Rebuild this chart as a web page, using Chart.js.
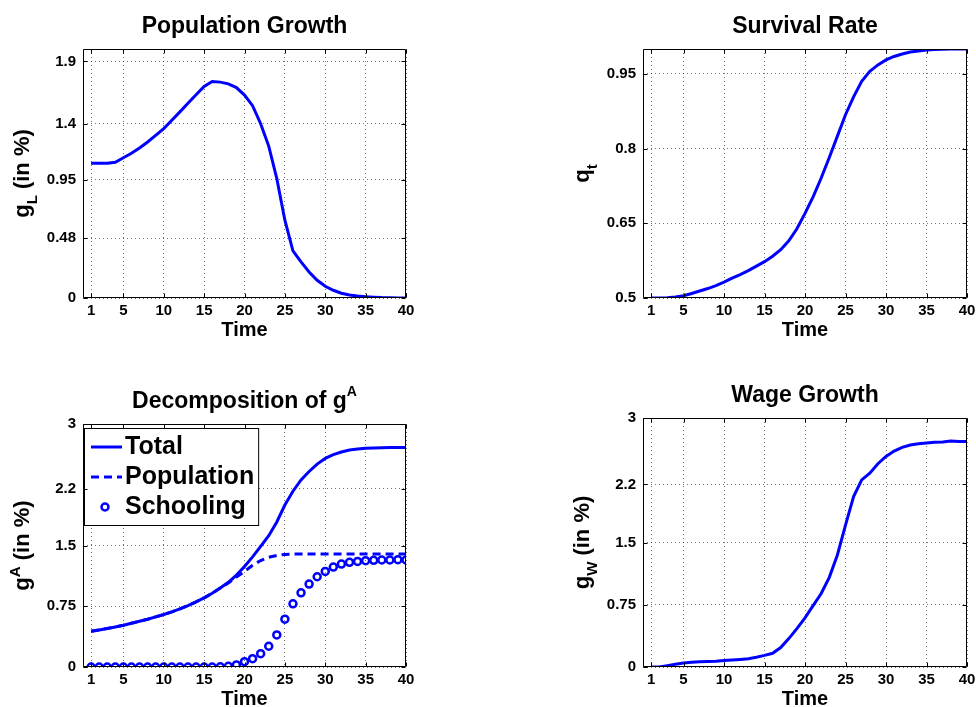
<!DOCTYPE html>
<html>
<head>
<meta charset="utf-8">
<title>Population Growth, Survival Rate, Decomposition of gA, Wage Growth</title>
<script src="https://cdn.jsdelivr.net/npm/chart.js@4.4.1/dist/chart.umd.min.js"></script>
<style>
  html, body { margin: 0; padding: 0; background: #fff; overflow: hidden; }
  #wrap { position: relative; width: 976px; height: 707px; overflow: hidden; }
  canvas { position: absolute; left: 0; top: 0; }
</style>
</head>
<body>
<div id="wrap">
  <canvas id="popChart" width="976" height="720"></canvas>
  <canvas id="survChart" width="976" height="720"></canvas>
  <canvas id="gaChart" width="976" height="720"></canvas>
  <canvas id="wageChart" width="976" height="720"></canvas>
</div>
<script>
const FONT = '"Liberation Sans", Arial, Helvetica, sans-serif';
const BLUE = '#0000ff';
const GRID = 'rgba(0,0,0,0.55)';

Chart.defaults.font.family = FONT;
Chart.defaults.color = '#000';

// time periods and tick labels
const time = [1, 2, 3, 4, 5, 6, 7, 8, 9, 10, 11, 12, 13, 14, 15, 16, 17, 18, 19, 20,
              21, 22, 23, 24, 25, 26, 27, 28, 29, 30, 31, 32, 33, 34, 35, 36, 37, 38, 39, 40];
const timeTicks = [1, 5, 10, 15, 20, 25, 30, 35, 40];

const popTicks = [0, 0.48, 0.95, 1.4, 1.9];
const survTicks = [0.5, 0.65, 0.8, 0.95];
const gaTicks = [0, 0.75, 1.5, 2.2, 3];
const wageTicks = [0, 0.75, 1.5, 2.2, 3];

// g_L (in %)
const popGrowth = [1.082, 1.082, 1.082, 1.09, 1.127, 1.162, 1.205, 1.253, 1.307, 1.361,
                   1.428, 1.495, 1.565, 1.632, 1.699, 1.739, 1.734, 1.72, 1.69, 1.63,
                   1.545, 1.40, 1.22, 0.96, 0.625, 0.378, 0.29, 0.209, 0.142, 0.094,
                   0.062, 0.038, 0.024, 0.016, 0.011, 0.007, 0.004, 0.003, 0.001, 0];

// q_t
const survival = [0.5, 0.5, 0.5007, 0.502, 0.5047, 0.509, 0.514, 0.519, 0.525, 0.532,
                  0.54, 0.547, 0.555, 0.564, 0.573, 0.584, 0.597, 0.615, 0.639, 0.67,
                  0.703, 0.741, 0.782, 0.825, 0.868, 0.904, 0.935, 0.955, 0.968, 0.978,
                  0.985, 0.99, 0.994, 0.996, 0.998, 0.999, 0.9995, 1.0, 1.0, 1.0];

// g^A decomposition
const gaTotal = [0.442, 0.458, 0.475, 0.495, 0.516, 0.54, 0.565, 0.59, 0.619, 0.648,
                 0.681, 0.718, 0.759, 0.805, 0.854, 0.91, 0.976, 1.045, 1.135, 1.24,
                 1.36, 1.49, 1.62, 1.79, 2.0, 2.17, 2.31, 2.414, 2.505, 2.575,
                 2.621, 2.654, 2.678, 2.69, 2.70, 2.703, 2.707, 2.709, 2.711, 2.711];
const gaPopulation = [0.442, 0.458, 0.475, 0.495, 0.516, 0.54, 0.565, 0.59, 0.619, 0.648,
                      0.681, 0.718, 0.759, 0.805, 0.854, 0.91, 0.974, 1.037, 1.11, 1.18,
                      1.255, 1.315, 1.355, 1.378, 1.39, 1.394, 1.395, 1.395, 1.395, 1.395,
                      1.395, 1.395, 1.395, 1.395, 1.395, 1.395, 1.395, 1.395, 1.395, 1.395];
const gaSchooling = [0, 0, 0, 0, 0, 0, 0, 0, 0, 0,
                     0, 0, 0, 0, 0, 0, 0.002, 0.008, 0.025, 0.066,
                     0.103, 0.165, 0.256, 0.396, 0.59, 0.78, 0.916, 1.024, 1.114, 1.18,
                     1.234, 1.271, 1.292, 1.304, 1.312, 1.317, 1.321, 1.321, 1.325, 1.321];

// g_W (in %)
const wageGrowth = [0, 0, 0.016, 0.032, 0.048, 0.056, 0.062, 0.066, 0.07, 0.077,
                    0.083, 0.091, 0.1, 0.118, 0.14, 0.165, 0.234, 0.342, 0.463, 0.592,
                    0.74, 0.886, 1.08, 1.35, 1.71, 2.054, 2.255, 2.336, 2.449, 2.537,
                    2.602, 2.646, 2.674, 2.69, 2.70, 2.708, 2.712, 2.724, 2.716, 2.716];

function pairs(values) {
  return time.map((t, i) => ({ x: t, y: values[i] }));
}

// draws text made of parts with their own size / baseline shift, centered on cx
function drawParts(ctx, parts, cx, baseY) {
  let widths = [];
  let total = 0;
  parts.forEach(p => {
    ctx.font = 'bold ' + p.size + 'px ' + FONT;
    let w = ctx.measureText(p.text).width;
    widths.push(w);
    total += w;
  });
  let x = cx - total / 2;
  parts.forEach((p, i) => {
    ctx.font = 'bold ' + p.size + 'px ' + FONT;
    ctx.fillText(p.text, x, baseY + (p.dy || 0));
    x += widths[i];
  });
}

function richLabels(title, ylabel) {
  return {
    id: 'richLabels',
    afterDraw(chart) {
      const ctx = chart.ctx, a = chart.chartArea;
      ctx.save();
      ctx.fillStyle = '#000';
      ctx.textAlign = 'left';
      ctx.textBaseline = 'alphabetic';
      drawParts(ctx, title, (a.left + a.right) / 2, a.top - 16);
      ctx.translate(a.left - 54, (a.top + a.bottom) / 2);
      ctx.rotate(-Math.PI / 2);
      drawParts(ctx, ylabel, 0, 0);
      ctx.restore();
    }
  };
}

// matlab style box with inward ticks on all sides
const framePlugin = {
  id: 'frame',
  afterDraw(chart) {
    const { ctx, chartArea: a, scales } = chart;
    const l = Math.round(a.left) + 0.5, r = Math.round(a.right) - 0.5;
    const t = Math.round(a.top) + 0.5, b = Math.round(a.bottom) - 0.5;
    ctx.save();
    ctx.strokeStyle = '#000';
    ctx.lineWidth = 1;
    ctx.beginPath();
    ctx.rect(l, t, r - l, b - t);
    scales.x.ticks.forEach(tk => {
      let px = Math.round(scales.x.getPixelForValue(tk.value)) + 0.5;
      ctx.moveTo(px, b); ctx.lineTo(px, b - 4);
      ctx.moveTo(px, t); ctx.lineTo(px, t + 4);
    });
    scales.y.ticks.forEach(tk => {
      let py = Math.round(scales.y.getPixelForValue(tk.value)) + 0.5;
      ctx.moveTo(l, py); ctx.lineTo(l + 4, py);
      ctx.moveTo(r, py); ctx.lineTo(r - 4, py);
    });
    ctx.stroke();
    ctx.restore();
  }
};

const boxLegend = {
  id: 'boxLegend',
  afterDatasetsDraw(chart) {
    const { ctx, chartArea: a } = chart;
    const sets = chart.data.datasets;
    ctx.save();
    ctx.font = 'bold 25px ' + FONT;
    let maxW = 0;
    sets.forEach(ds => { maxW = Math.max(maxW, ctx.measureText(ds.label).width); });
    const left = Math.round(a.left) + 1, top = Math.round(a.top) + 4;
    const w = 42 + maxW + 3, h = 97;
    ctx.fillStyle = '#fff';
    ctx.fillRect(left, top, w, h);
    ctx.strokeStyle = '#000';
    ctx.lineWidth = 1;
    ctx.strokeRect(left + 0.5, top + 0.5, w, h);
    sets.forEach((ds, i) => {
      let y = top + 19 + i * 30;
      ctx.strokeStyle = BLUE;
      if (ds.showLine === false) {
        ctx.lineWidth = ds.pointBorderWidth;
        ctx.setLineDash([]);
        ctx.beginPath();
        ctx.arc(left + 21, y, ds.pointRadius, 0, Math.PI * 2);
        ctx.stroke();
      } else {
        ctx.lineWidth = ds.borderWidth;
        ctx.setLineDash(ds.borderDash || []);
        ctx.beginPath();
        ctx.moveTo(left + 7, y);
        ctx.lineTo(left + 38, y);
        ctx.stroke();
      }
      ctx.setLineDash([]);
      ctx.fillStyle = '#000';
      ctx.textBaseline = 'middle';
      ctx.fillText(ds.label, left + 41, y);
    });
    ctx.restore();
  }
};

function lineSet(label, values, dash) {
  return {
    label: label,
    data: pairs(values),
    borderColor: BLUE,
    borderWidth: 3,
    borderDash: dash || [],
    pointRadius: 0,
    fill: false
  };
}

function buildChart(id, datasets, yTicks, yMin, yMax, padding, title, ylabel, legend) {
  const plugins = [framePlugin, richLabels(title, ylabel)];
  if (legend) plugins.push(boxLegend);
  return new Chart(document.getElementById(id), {
    type: 'line',
    data: { datasets: datasets },
    options: {
      responsive: false,
      animation: false,
      devicePixelRatio: 1,
      layout: { padding: padding },
      plugins: {
        legend: { display: false },
        title: { display: false },
        tooltip: { enabled: false }
      },
      scales: {
        x: {
          type: 'linear',
          min: 0,
          max: 40,
          afterBuildTicks: s => { s.ticks = timeTicks.map(v => ({ value: v })); },
          afterFit: s => { s.height = 44; s.paddingLeft = 0; s.paddingRight = 0; },
          ticks: {
            autoSkip: false, maxRotation: 0, padding: 4, color: '#000',
            font: { size: 15, weight: 'bold' },
            callback: v => String(v)
          },
          grid: { color: GRID, lineWidth: 1, drawTicks: false },
          border: { display: false, dash: [1, 3] },
          title: { display: true, text: 'Time', color: '#000', padding: 0,
                   font: { size: 20, weight: 'bold' } }
        },
        y: {
          type: 'linear',
          min: yMin,
          max: yMax,
          afterBuildTicks: s => { s.ticks = yTicks.map(v => ({ value: v })); },
          afterFit: s => { s.width = 60; s.paddingTop = 0; s.paddingBottom = 0; },
          ticks: {
            autoSkip: false, padding: 7, color: '#000',
            font: { size: 15, weight: 'bold' },
            callback: v => String(v)
          },
          grid: { color: GRID, lineWidth: 1, drawTicks: false },
          border: { display: false, dash: [1, 3] }
        }
      }
    },
    plugins: plugins
  });
}

buildChart('popChart', [lineSet('g_L', popGrowth)], popTicks, 0, 2,
  { left: 23, right: 570, top: 49, bottom: 378 },
  [{ text: 'Population Growth', size: 23 }],
  [{ text: 'g', size: 22 }, { text: 'L', size: 15, dy: 8 }, { text: ' (in %)', size: 22 }]);

buildChart('survChart', [lineSet('q_t', survival)], survTicks, 0.5, 1,
  { left: 583, right: 9, top: 49, bottom: 378 },
  [{ text: 'Survival Rate', size: 23 }],
  [{ text: 'q', size: 22 }, { text: 't', size: 15, dy: 8 }]);

buildChart('gaChart', [
    lineSet('Total', gaTotal),
    lineSet('Population', gaPopulation, [8, 5]),
    {
      label: 'Schooling',
      data: pairs(gaSchooling),
      showLine: false,
      pointStyle: 'circle',
      pointRadius: 3.5,
      pointBorderWidth: 2.5,
      pointBorderColor: BLUE,
      pointBackgroundColor: 'rgba(0,0,0,0)',
      borderColor: BLUE
    }
  ], gaTicks, 0, 3,
  { left: 23, right: 570, top: 424, bottom: 9 },
  [{ text: 'Decomposition of g', size: 23 }, { text: 'A', size: 14, dy: -12 }],
  [{ text: 'g', size: 22 }, { text: 'A', size: 15, dy: -9 }, { text: ' (in %)', size: 22 }],
  true);

buildChart('wageChart', [lineSet('g_W', wageGrowth)], wageTicks, 0, 3,
  { left: 583, right: 9, top: 418, bottom: 9 },
  [{ text: 'Wage Growth', size: 23 }],
  [{ text: 'g', size: 22 }, { text: 'W', size: 15, dy: 8 }, { text: ' (in %)', size: 22 }]);
</script>
</body>
</html>
